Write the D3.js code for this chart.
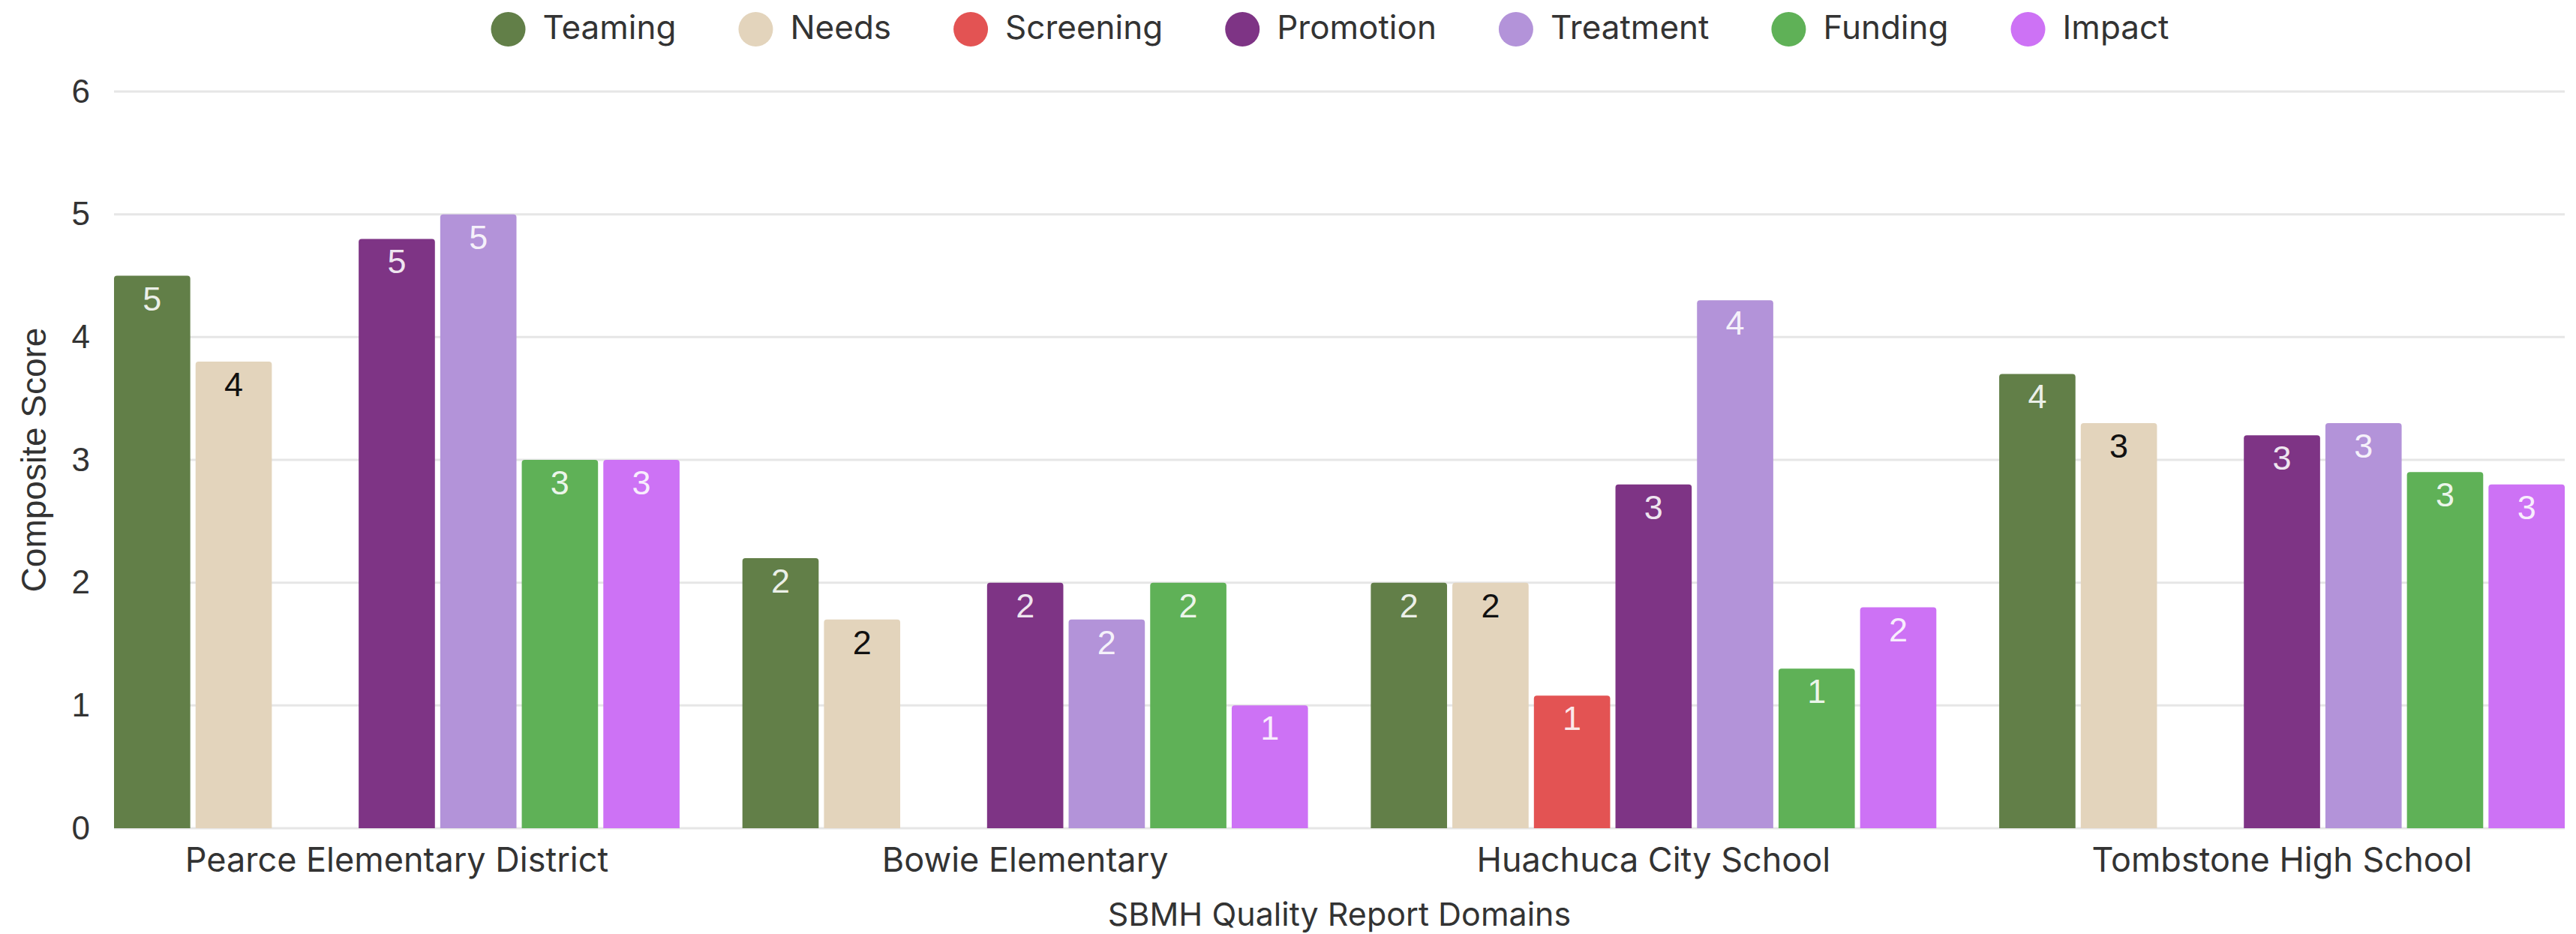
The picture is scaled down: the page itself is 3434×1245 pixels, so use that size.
<!DOCTYPE html>
<html>
<head>
<meta charset="utf-8">
<script src="https://cdn.jsdelivr.net/npm/d3@7"></script>
<style>
  html, body { margin: 0; padding: 0; background: #fff; }
  svg { display: block; }
</style>
</head>
<body>
<svg id="chart" width="3434" height="1245"></svg>
<script>
// SBMH quality report: composite score by domain for four schools

const schools = ["Pearce Elementary District", "Bowie Elementary", "Huachuca City School", "Tombstone High School"];
const domains = ["Teaming", "Needs", "Screening", "Promotion", "Treatment", "Funding", "Impact"];
const colors = ["#627f48", "#e3d4bc", "#e35353", "#7e3485", "#b393d9", "#5fb157", "#cd72f5"];

// one array per domain, in school order (null = no bar)
const teaming   = [4.5, 2.2, 2.0, 3.7];
const needs     = [3.8, 1.7, 2.0, 3.3];
const screening = [null, null, 1.08, null];
const promotion = [4.8, 2.0, 2.8, 3.2];
const treatment = [5.0, 1.7, 4.3, 3.3];
const funding   = [3.0, 2.0, 1.3, 2.9];
const impact    = [3.0, 1.0, 1.8, 2.8];
const series = [teaming, needs, screening, promotion, treatment, funding, impact];

const yTicks = [0, 1, 2, 3, 4, 5, 6];

const svg = d3.select("#chart");
const plotLeft = 152, plotRight = 3419, plotTop = 122, plotBottom = 1104;

const x0 = d3.scaleBand().domain(schools).range([plotLeft, plotRight]).paddingInner(0.1).paddingOuter(0);
const x1 = d3.scaleBand().domain(domains).range([0, x0.bandwidth()]).paddingInner(0.065);
const y = d3.scaleLinear().domain([0, 6]).range([plotBottom, plotTop]);
const color = d3.scaleOrdinal().domain(domains).range(colors);

// gridlines
svg.append("g")
  .selectAll("line")
  .data(yTicks)
  .join("line")
  .attr("x1", plotLeft)
  .attr("x2", plotRight)
  .attr("y1", d => y(d))
  .attr("y2", d => y(d))
  .attr("stroke", "#e6e6e6")
  .attr("stroke-width", 3);

// y axis labels
const yAxis = svg.append("g")
  .attr("transform", `translate(${plotLeft - 32},0)`)
  .call(d3.axisLeft(y).tickValues(yTicks).tickFormat(d3.format("d")).tickSize(0).tickPadding(0));
yAxis.select(".domain").remove();
yAxis.selectAll("text")
  .attr("font-family", "'Liberation Sans', Arial, sans-serif")
  .attr("font-size", 44)
  .attr("fill", "#333");

// x axis labels
const xAxis = svg.append("g")
  .attr("transform", `translate(0,${plotBottom})`)
  .call(d3.axisBottom(x0).tickSize(0).tickPadding(0));
xAxis.select(".domain").remove();
xAxis.selectAll("text")
  .attr("dy", null)
  .attr("y", 58)
  .attr("font-family", "Inter, sans-serif")
  .attr("font-size", 45)
  .attr("fill", "#333");

// flatten to one row per bar
const rows = [];
schools.forEach((s, i) => {
  domains.forEach((d, j) => {
    const v = series[j][i];
    if (v != null) rows.push({ school: s, domain: d, value: v });
  });
});

function topRounded(x, yTop, w, h, r) {
  return `M${x},${yTop + h}V${yTop + r}Q${x},${yTop} ${x + r},${yTop}H${x + w - r}Q${x + w},${yTop} ${x + w},${yTop + r}V${yTop + h}Z`;
}

const bars = svg.append("g")
  .selectAll("g")
  .data(rows)
  .join("g");

bars.append("path")
  .attr("d", d => {
    const bx = x0(d.school) + x1(d.domain);
    return topRounded(bx, y(d.value), x1.bandwidth(), y(0) - y(d.value), 4);
  })
  .attr("fill", d => color(d.domain));

bars.append("text")
  .attr("x", d => x0(d.school) + x1(d.domain) + x1.bandwidth() / 2)
  .attr("y", d => y(d.value) + 46)
  .attr("text-anchor", "middle")
  .attr("font-family", "'Liberation Sans', Arial, sans-serif")
  .attr("font-size", 45)
  .attr("fill", d => d.domain === "Needs" ? "#111" : "#fff")
  .attr("fill-opacity", d => d.domain === "Needs" ? 1 : 0.9)
  .text(d => Math.round(d.value));

// axis titles
svg.append("text")
  .attr("x", (plotLeft + plotRight) / 2)
  .attr("y", 1234)
  .attr("text-anchor", "middle")
  .attr("font-family", "Inter, sans-serif")
  .attr("font-size", 43)
  .attr("fill", "#333")
  .text("SBMH Quality Report Domains");

svg.append("text")
  .attr("transform", `translate(61,${(plotTop + plotBottom) / 2}) rotate(-90)`)
  .attr("text-anchor", "middle")
  .attr("font-family", "'Liberation Sans', Arial, sans-serif")
  .attr("font-size", 46)
  .attr("fill", "#333")
  .text("Composite Score");

// legend, centred at the top
const legend = svg.append("g");
const items = legend.selectAll("g")
  .data(domains)
  .join("g");
items.append("circle")
  .attr("r", 23)
  .attr("cy", 39)
  .attr("fill", d => color(d));
items.append("text")
  .attr("x", 46)
  .attr("y", 52)
  .attr("font-family", "Inter, sans-serif")
  .attr("font-size", 44)
  .attr("fill", "#333")
  .text(d => d);

let pos = 0;
items.each(function () {
  const w = d3.select(this).select("text").node().getComputedTextLength();
  d3.select(this).attr("data-x", pos);
  pos += 23 + 46 + w + 83;
});
const legendWidth = pos - 83;
const legendStart = 1773 - legendWidth / 2;
items.attr("transform", function () {
  return `translate(${legendStart + 23 + (+this.getAttribute("data-x"))},0)`;
});
</script>
</body>
</html>
